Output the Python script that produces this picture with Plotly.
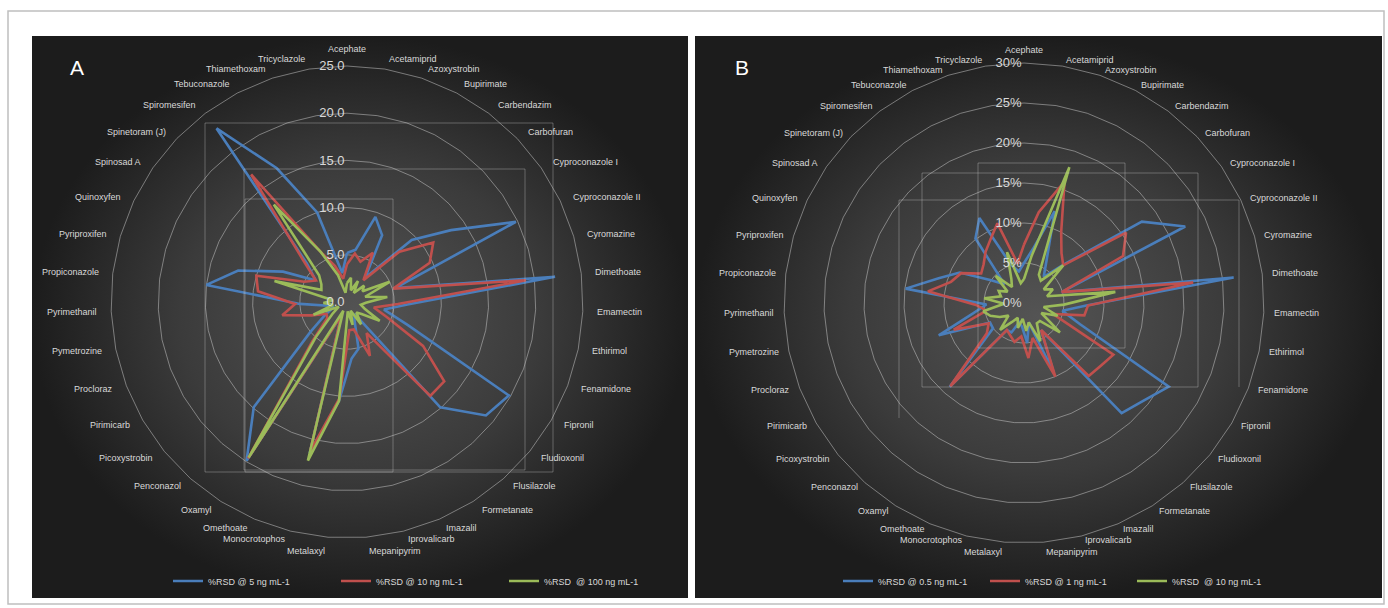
import math
import plotly.graph_objects as go

# ---------------- data ----------------
categories = [
    "Acephate", "Acetamiprid", "Azoxystrobin", "Bupirimate", "Carbendazim", "Carbofuran",
    "Cyproconazole I", "Cyproconazole II", "Cyromazine", "Dimethoate", "Emamectin", "Ethirimol",
    "Fenamidone", "Fipronil", "Fludioxonil", "Flusilazole", "Formetanate", "Imazalil",
    "Iprovalicarb", "Mepanipyrim", "Metalaxyl", "Monocrotophos", "Omethoate", "Oxamyl",
    "Penconazol", "Picoxystrobin", "Pirimicarb", "Procloraz", "Pymetrozine", "Pyrimethanil",
    "Propiconazole", "Pyriproxifen", "Quinoxyfen", "Spinosad A", "Spinetoram (J)", "Spiromesifen",
    "Tebuconazole", "Thiamethoxam", "Tricyclazole",
]

# Panel A : %RSD values
a_5ng = [5.2, 5.6, 9.5, 8.0, 3.2, 9.5, 13.4, 19.8, 5.3, 22.2, 6.4, 4.0,
         6.9, 19.8, 19.0, 14.9, 1.5, 2.0, 5.1, 6.0, 10.5, 16.5, 1.5, 19.9,
         14.9, 5.0, 2.6, 1.5, 2.0, 5.0, 15.0, 12.0, 7.5, 4.0, 5.9, 23.0,
         16.0, 10.0, 3.1]
a_10ng = [4.0, 5.2, 4.5, 5.9, 2.9, 7.7, 11.1, 9.7, 5.1, 19.1, 5.4, 2.9,
          4.5, 9.3, 13.3, 13.3, 3.9, 6.2, 3.0, 3.0, 10.3, 16.3, 1.5, 19.6,
          5.5, 2.7, 2.5, 4.0, 7.0, 5.5, 9.5, 10.0, 5.0, 4.0, 6.5, 16.9,
          6.0, 4.0, 2.5]
a_100ng = [2.0, 2.6, 1.3, 2.5, 1.2, 2.5, 2.0, 5.0, 2.0, 4.3, 2.0, 1.5,
           2.0, 4.0, 2.0, 1.5, 2.8, 1.0, 2.5, 1.0, 10.5, 17.3, 1.0, 19.5,
           5.0, 2.0, 1.0, 3.8, 1.5, 2.5, 1.5, 8.0, 3.0, 3.3, 4.1, 12.9,
           6.0, 3.0, 1.0]

# Panel B : %RSD values (percent)
b_05ng = [5.0, 6.8, 12.1, 6.1, 4.1, 7.0, 17.9, 22.3, 4.9, 26.4, 7.8, 4.9,
          7.5, 20.9, 19.3, 18.4, 4.0, 9.5, 2.5, 5.0, 3.0, 2.5, 4.0, 4.0,
          14.0, 5.0, 4.9, 11.4, 6.5, 4.7, 14.9, 11.1, 8.9, 5.0, 3.4, 10.1,
          12.0, 5.0, 4.0]
b_1ng = [7.3, 11.5, 16.0, 10.0, 7.8, 6.8, 15.5, 13.7, 4.9, 21.3, 8.0, 7.7,
         3.9, 12.9, 12.4, 12.2, 4.0, 10.0, 4.5, 6.9, 4.2, 5.0, 4.4, 4.0,
         13.9, 6.0, 5.1, 9.4, 4.8, 6.0, 12.1, 9.5, 8.7, 6.5, 7.0, 8.0,
         9.0, 10.5, 5.0]
b_10ng = [3.0, 6.0, 17.9, 4.0, 3.5, 6.8, 3.0, 4.0, 3.0, 11.5, 5.0, 2.5,
          4.5, 2.5, 5.8, 3.0, 3.0, 5.2, 2.5, 3.5, 2.0, 3.2, 2.0, 2.8,
          4.5, 2.5, 3.5, 4.5, 5.2, 2.5, 5.0, 3.0, 3.5, 2.5, 4.9, 2.5,
          3.4, 6.7, 2.5]

names_a = ["%RSD @ 5 ng mL-1", "%RSD @ 10 ng mL-1", "%RSD  @ 100 ng mL-1"]
names_b = ["%RSD @ 0.5 ng mL-1", "%RSD @ 1 ng mL-1", "%RSD  @ 10 ng mL-1"]
colors = ["#4A7EBB", "#C0504D", "#9BBB59"]

# ---------------- figure ----------------
W, H = 1388, 608
FONT = "Liberation Sans, Arial, sans-serif"
LABEL = "#d9d9d9"
GRID = "rgba(205,205,205,0.5)"


def px_x(v):
    return v / W


def px_y(v):
    return 1 - v / H


fig = go.Figure()

# dark gradient panels (decoration, pixel space cartesian axes)
for (x0, y0, x1, y1) in [(32, 36, 688, 598), (695, 36, 1382, 598)]:
    fig.add_trace(go.Scatter(
        x=[x0, x1, x1, x0, x0], y=[y0, y0, y1, y1, y0],
        mode="lines", fill="toself", line=dict(width=0, color="rgba(0,0,0,0)"),
        fillgradient=dict(type="radial", colorscale=[[0, "#545454"], [0.55, "#3b3b3b"], [1, "#1c1c1c"]]),
        hoverinfo="skip", showlegend=False, xaxis="x", yaxis="y"))


def closed(v):
    return list(v) + [v[0]]


cats_closed = closed(categories)

for vals, name, col in zip([a_5ng, a_10ng, a_100ng], names_a, colors):
    fig.add_trace(go.Scatterpolar(
        r=closed(vals), theta=cats_closed, name=name, mode="lines",
        line=dict(color=col, width=2.6), subplot="polar", legend="legend"))

for vals, name, col in zip([b_05ng, b_1ng, b_10ng], names_b, colors):
    fig.add_trace(go.Scatterpolar(
        r=closed(vals), theta=cats_closed, name=name, mode="lines",
        line=dict(color=col, width=2.6), subplot="polar2", legend="legend2"))


def polar_layout(xd, yd, rmax, fmt, suffix):
    return dict(
        domain=dict(x=xd, y=yd),
        bgcolor="rgba(0,0,0,0)",
        gridshape="linear",
        angularaxis=dict(
            direction="clockwise", rotation=90, showgrid=False,
            showline=True, linecolor=GRID, linewidth=1,
            ticks="", showticklabels=False,
            categoryorder="array", categoryarray=categories,
        ),
        radialaxis=dict(
            range=[0, rmax], dtick=5, tickformat=fmt, ticksuffix=suffix,
            showline=False, ticks="", gridcolor=GRID, gridwidth=1,
            angle=90, side="counterclockwise", tickangle=90,
            tickfont=dict(size=13, color=LABEL, family=FONT),
        ),
    )


ra, rb = 236, 240
CA = (347, 302)
CB = (1024, 303)
fig.update_layout(
    width=W, height=H,
    margin=dict(l=0, r=0, t=0, b=0),
    paper_bgcolor="white", plot_bgcolor="rgba(0,0,0,0)",
    font=dict(family=FONT, color=LABEL),
    xaxis=dict(range=[0, W], domain=[0, 1], visible=False, fixedrange=True),
    yaxis=dict(range=[H, 0], domain=[0, 1], visible=False, fixedrange=True),
    polar=polar_layout([px_x(CA[0] - ra), px_x(CA[0] + ra)], [px_y(CA[1] + ra), px_y(CA[1] - ra)], 25, ".1f", ""),
    polar2=polar_layout([px_x(CB[0] - rb), px_x(CB[0] + rb)], [px_y(CB[1] + rb), px_y(CB[1] - rb)], 30, "d", "%"),
    legend=dict(orientation="h", x=px_x(168), y=px_y(581), xanchor="left", yanchor="middle",
                bgcolor="rgba(0,0,0,0)", font=dict(size=9, color=LABEL, family=FONT),
                entrywidth=123, entrywidthmode="pixels"),
    legend2=dict(orientation="h", x=px_x(838), y=px_y(581), xanchor="left", yanchor="middle",
                 bgcolor="rgba(0,0,0,0)", font=dict(size=9, color=LABEL, family=FONT),
                 entrywidth=102, entrywidthmode="pixels"),
    showlegend=True,
)

# category labels placed on an ellipse around each chart (as in the original)
RX, RY = 248, 246
n = len(categories)
for (cx, cy) in [CA, CB]:
    for i, name in enumerate(categories):
        t = 2 * math.pi * i / n
        s, c = math.sin(t), math.cos(t)
        x = cx + RX * s
        y = cy - RY * c
        if abs(s) < 0.01:
            xa = "center"
            y -= 7
        else:
            xa = "left" if s > 0 else "right"
        if c < -0.99:          # the two labels right at the bottom sit a little lower
            y += 4
        elif -0.99 <= c < -0.96:
            y -= 1.5
        fig.add_annotation(text=name, x=px_x(x), y=px_y(y), xref="paper", yref="paper",
                           showarrow=False, xanchor=xa, yanchor="middle",
                           font=dict(size=9, color=LABEL, family=FONT))

# outer frame
fig.add_shape(type="rect", xref="paper", yref="paper", x0=px_x(8), x1=px_x(1384), y0=px_y(604), y1=px_y(11),
              line=dict(color="#bfbfbf", width=1.5), fillcolor="rgba(0,0,0,0)", layer="below")

# faint boxes visible in the original picture
for (x0, y0, x1, y1) in [(205, 123, 553, 472), (244, 169, 525, 470), (245, 199, 393, 472),
                         (978, 163, 1125, 348), (922, 173, 1198, 387)]:
    fig.add_shape(type="rect", xref="x", yref="y", x0=x0, x1=x1, y0=y0, y1=y1,
                  line=dict(color="rgba(210,210,210,0.35)", width=1), layer="above")
fig.add_shape(type="path", xref="x", yref="y", path="M899,418 L899,200 L1239,200 L1239,387",
              line=dict(color="rgba(210,210,210,0.35)", width=1), layer="above")

# panel letters
for txt, x in [("A", 77), ("B", 742)]:
    fig.add_annotation(text=txt, x=px_x(x), y=px_y(68), xref="paper", yref="paper",
                       showarrow=False, xanchor="center", yanchor="middle",
                       font=dict(size=21, color="white", family=FONT))

fig.write_html("out.html", config={"displayModeBar": False},
               post_script="document.body.style.margin='0';")
